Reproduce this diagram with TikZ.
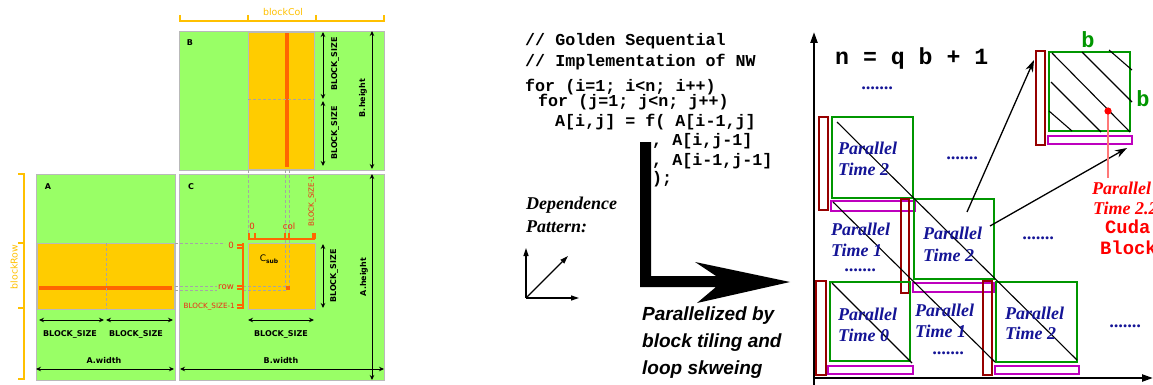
\documentclass[tikz,border=0pt]{standalone}
\usepackage{fontspec}
\setmainfont{Liberation Serif}
\setmonofont{Liberation Mono}
\newfontfamily\dvs{DejaVu Sans}
\newfontfamily\helv{Liberation Sans}
\usetikzlibrary{arrows.meta}

\definecolor{matgreen}{RGB}{153,255,102}
\definecolor{matgold}{RGB}{255,204,0}
\definecolor{matstripe}{RGB}{255,102,0}
\definecolor{matframe}{RGB}{185,185,185}
\definecolor{guide}{RGB}{165,165,165}
\definecolor{brackety}{RGB}{255,192,0}
\definecolor{idxred}{RGB}{240,40,20}
\definecolor{tgreen}{RGB}{0,150,0}
\definecolor{tmaroon}{RGB}{150,0,0}
\definecolor{tmag}{RGB}{190,0,190}
\definecolor{tblue}{RGB}{20,20,150}
\definecolor{tred}{RGB}{255,0,0}
\definecolor{tpink}{RGB}{255,120,120}

\tikzset{
  mat/.style={fill=matgreen, draw=matframe, line width=0.9pt},
  tile/.style={fill=matgold, draw=matframe, line width=0.9pt},
  stripe/.style={fill=matstripe},
  guideline/.style={draw=guide, line width=0.7pt, dash pattern=on 3pt off 2pt},
  dim/.style={line width=1pt, {Stealth[length=5pt,width=4.5pt]}-{Stealth[length=5pt,width=4.5pt]}},
  lbl/.style={font=\dvs\bfseries\fontsize{8}{9}\selectfont, inner sep=0},
  idxlbl/.style={font=\dvs\fontsize{8.6}{9}\selectfont, text=idxred, inner sep=0},
  idxline/.style={draw=matstripe, line width=1.1pt},
  ybracket/.style={draw=brackety, line width=1.4pt},
  ylbl/.style={font=\dvs\fontsize{9.4}{10}\selectfont, text=brackety, inner sep=0},
  code/.style={font=\ttfamily\bfseries\fontsize{16.7}{18}\selectfont, anchor=base west, inner sep=0},
  serifbi/.style={font=\bfseries\itshape\fontsize{18}{20}\selectfont, anchor=base west, inner sep=0},
  ptxt/.style={serifbi, text=tblue},
  gbox/.style={draw=tgreen, line width=1.6pt},
  rbar/.style={draw=tmaroon, line width=1.6pt},
  mbar/.style={draw=tmag, line width=1.6pt},
  diag/.style={line width=1.1pt},
  linkarrow/.style={line width=1.3pt, -{Stealth[length=12pt,width=8pt]}},
  axis/.style={line width=2.2pt, -{Triangle[length=11pt,width=7pt]}},
}

\begin{document}
\begin{tikzpicture}[x=1pt,y=-1pt]
\useasboundingbox (0,0) rectangle (1153,385);

% ---------------- matrix multiplication panel ----------------
% matrices
\path[mat] (179,31) rectangle (384,170);
\path[mat] (36,174) rectangle (175,380);
\path[mat] (179,174) rectangle (384,380);
% tiles
\path[tile] (248,32) rectangle (314,169);
\path[tile] (37,243) rectangle (174,309);
\path[tile] (248,243) rectangle (315,309);
% row / column stripes
\fill[stripe] (285,33) rectangle (289,167);
\fill[stripe] (39,286) rectangle (172,290);
% tile sub-division
\draw[guideline] (248,99) -- (314,99);
\draw[guideline] (106,243) -- (106,309);
% guides into C
\draw[guideline] (248,170) -- (248,236);
\draw[guideline] (285,170) -- (285,288);
\draw[guideline] (289,170) -- (289,288);
\draw[guideline] (175,243) -- (225,243);
\draw[guideline] (175,286) -- (217,286);
\draw[guideline] (175,290) -- (217,290);
\draw[guideline] (243,286) -- (287,286);
\draw[guideline] (243,290) -- (287,290);
\fill[matstripe] (285.5,286) rectangle (289.5,290);

% index scales of C_sub
\draw[idxline] (248,239) -- (315,239);
\foreach \xx in {249,255,285,289,313,315}
  \draw[idxline] (\xx,233) -- (\xx,239);
\draw[idxline] (243,243) -- (243,309);
\foreach \yy in {245,248,286,289,305,308}
  \draw[idxline] (237,\yy) -- (243,\yy);
\node[idxlbl] (c0) at (252,226) {0};
\node[idxlbl] (ccol) at (289,226) {col};
\node[idxlbl, font=\dvs\fontsize{7.2}{8}\selectfont, rotate=90] (cend) at (312,201) {BLOCK\_SIZE-1};
\node[idxlbl] (r0) at (231,245) {0};
\node[idxlbl] (rrow) at (226,287) {row};
\node[idxlbl, font=\dvs\fontsize{7.2}{8}\selectfont, anchor=east] (rend) at (235,307) {BLOCK\_SIZE-1};

% matrix names
\node[lbl] (nB) at (190,43) {B};
\node[lbl] (nA) at (48,187) {A};
\node[lbl] (nC) at (191,187) {C};
\node[inner sep=0] (nCsub) at (269,259) {\dvs\fontsize{9}{10}\selectfont C\raisebox{-2pt}{\bfseries\fontsize{6}{7}\selectfont sub}};

% dimension arrows
\draw[dim] (323,32) -- (323,99);
\draw[dim] (323,101) -- (323,166);
\draw[dim] (372,31) -- (372,169);
\draw[dim] (39,320) -- (104,320);
\draw[dim] (106,320) -- (173,320);
\draw[dim] (36,369) -- (174,369);
\draw[dim] (248,320) -- (314,320);
\draw[dim] (323,244) -- (323,308);
\draw[dim] (372,174) -- (372,380);
\draw[dim] (180,369) -- (384,369);
\node[lbl, rotate=90] (dB1) at (335,64) {BLOCK\_SIZE};
\node[lbl, rotate=90] (dB2) at (335,133) {BLOCK\_SIZE};
\node[lbl, rotate=90] (dBh) at (363,98) {B.height};
\node[lbl, rotate=90] (dC) at (334,276) {BLOCK\_SIZE};
\node[lbl, rotate=90] (dAh) at (364,277) {A.height};
\node[lbl] (dA1) at (70,334) {BLOCK\_SIZE};
\node[lbl] (dA2) at (136,334) {BLOCK\_SIZE};
\node[lbl] (dCw) at (281,334) {BLOCK\_SIZE};
\node[lbl] (dAw) at (104,361) {A.width};
\node[lbl] (dBw) at (281,361) {B.width};

% block brackets
\draw[ybracket] (180,15) -- (180,21) -- (384,21) -- (384,15);
\draw[ybracket] (248,15) -- (248,21);
\draw[ybracket] (316,15) -- (316,21);
\node[ylbl] (bcol) at (283,12) {blockCol};
\draw[ybracket] (18,174) -- (24,174) -- (24,379) -- (18,379);
\draw[ybracket] (18,243) -- (24,243);
\draw[ybracket] (18,308) -- (24,308);
\node[ylbl, rotate=90] (brow) at (14,267) {blockRow};

% ---------------- sequential code ----------------
\node[code] (l1) at (525,46) {// Golden Sequential};
\node[code] (l2) at (525,67) {// Implementation of NW};
\node[code] (l3) at (525,92) {for (i=1; i<n; i++)};
\node[code] (l4) at (538,107) {for (j=1; j<n; j++)};
\node[code] (l5) at (555,127) {A[i,j] = f( A[i-1,j]};
\node[code] (l6) at (652,146) {, A[i,j-1]};
\node[code] (l7) at (652,165) {, A[i-1,j-1]};
\node[code] (l8) at (652,183) {);};

% dependence pattern
\node[serifbi] (dep1) at (526,209) {Dependence};
\node[serifbi] (dep2) at (526,232) {Pattern:};
\coordinate (o) at (526,298);
\coordinate (oup) at (526,248);
\coordinate (ort) at (579,298);
\coordinate (odg) at (568,256);
\draw[line width=1.2pt, -{Triangle[length=8pt,width=5pt]}] (o) -- (oup);
\draw[line width=1.2pt, -{Triangle[length=8pt,width=5pt]}] (o) -- (ort);
\draw[line width=1.2pt, -{Triangle[length=8pt,width=5pt]}] (o) -- (odg);

% big transformation arrow
\fill (640,142) -- (651,142) -- (651,276) -- (716,276) -- (695,262)
  -- (790,282) -- (697,303) -- (716,287) -- (640,287) -- cycle;
\node[font=\helv\bfseries\itshape\fontsize{19}{21}\selectfont, anchor=base west, inner sep=0] (par1) at (642,320) {Parallelized by};
\node[font=\helv\bfseries\itshape\fontsize{19}{21}\selectfont, anchor=base west, inner sep=0] (par2) at (642,347) {block tiling and};
\node[font=\helv\bfseries\itshape\fontsize{19}{21}\selectfont, anchor=base west, inner sep=0] (par3) at (642,374) {loop skweing};

% ---------------- tiled wavefront ----------------
\draw[axis] (814,386) -- (814,32);
\draw[axis] (813,378) -- (1153,378);
\node[code, font=\ttfamily\bfseries\fontsize{23.2}{25}\selectfont] (eq) at (835,65) {n = q b + 1};

% tiles: green block, maroon column bar, magenta row bar
\draw[gbox] (832,117) rectangle (913,198);
\draw[rbar] (819,117) rectangle (828,210);
\draw[mbar] (831,201) rectangle (915,211);

\draw[gbox] (914,199) rectangle (994,279);
\draw[rbar] (901,199) rectangle (909,293);
\draw[mbar] (913,283) rectangle (994,292);

\draw[gbox] (830,282) rectangle (910,361);
\draw[rbar] (816,281) rectangle (826,375);
\draw[mbar] (828,366) rectangle (913,374);

\draw[gbox] (996,282) rectangle (1077,362);
\draw[rbar] (983,281) rectangle (992,375);
\draw[mbar] (995,366) rectangle (1079,374);

\draw[gbox] (1049,52) rectangle (1130,131);
\draw[rbar] (1036,51) rectangle (1045,145);
\draw[mbar] (1048,136) rectangle (1132,144);

% wavefront diagonals
\draw[diag] (837,122) -- (1077,360);
\draw[diag] (833,202) -- (995,362);
\draw[diag] (832,283) -- (912,363);
% hatching of the enlarged tile
\draw[diag] (1052,53) -- (1130,132);
\draw[diag] (1082,52) -- (1132,102);
\draw[diag] (1109,50) -- (1132,70);
\draw[diag] (1051,82) -- (1101,132);
\draw[diag] (1049,111) -- (1072,131);

% labels of the tiles
\node[ptxt] (t2a) at (838,154) {Parallel};
\node[ptxt] (t2b) at (838,175) {Time 2};
\node[ptxt] (t1a) at (831,235) {Parallel};
\node[ptxt] (t1b) at (831,256) {Time 1};
\node[ptxt] (t1d) at (845,271) {.......};
\node[ptxt] (m2a) at (923,239) {Parallel};
\node[ptxt] (m2b) at (923,261) {Time 2};
\node[ptxt] (t0a) at (838,320) {Parallel};
\node[ptxt] (t0b) at (838,341) {Time 0};
\node[ptxt] (u1a) at (915,316) {Parallel};
\node[ptxt] (u1b) at (915,337) {Time 1};
\node[ptxt] (u1d) at (933,354) {.......};
\node[ptxt] (r2a) at (1005,319) {Parallel};
\node[ptxt] (r2b) at (1005,339) {Time 2};
\node[ptxt] (d1) at (862,90) {.......};
\node[ptxt] (d2) at (947,159) {.......};
\node[ptxt] (d3) at (1023,239) {.......};
\node[ptxt] (d4) at (1110,327) {.......};

% zoom-in arrows
\coordinate (za) at (967,212);
\coordinate (zb) at (1034,60);
\coordinate (zc) at (990,226);
\coordinate (zd) at (1127,148);
\draw[linkarrow] (za) -- (zb);
\draw[linkarrow] (zc) -- (zd);

% block size labels
\node[inner sep=0, font=\ttfamily\bfseries\fontsize{22}{24}\selectfont, text=tgreen] (bw) at (1088,40) {b};
\node[inner sep=0, font=\ttfamily\bfseries\fontsize{22}{24}\selectfont, text=tgreen] (bh) at (1143,99) {b};

% cuda block marker
\coordinate (dot) at (1108,111);
\coordinate (dotend) at (1108,178);
\draw[tpink, line width=1.2pt] (dot) -- (dotend);
\fill[tred] (dot) circle (3.6);
\node[serifbi, text=tred] (cb1) at (1092,194) {Parallel};
\node[serifbi, text=tred] (cb2) at (1093,214) {Time 2.2};
\node[code, font=\ttfamily\bfseries\fontsize{18.8}{20}\selectfont, text=tred] (cb3) at (1105,233) {Cuda};
\node[code, font=\ttfamily\bfseries\fontsize{18.8}{20}\selectfont, text=tred] (cb4) at (1100,254) {Block};
\end{tikzpicture}
\end{document}
